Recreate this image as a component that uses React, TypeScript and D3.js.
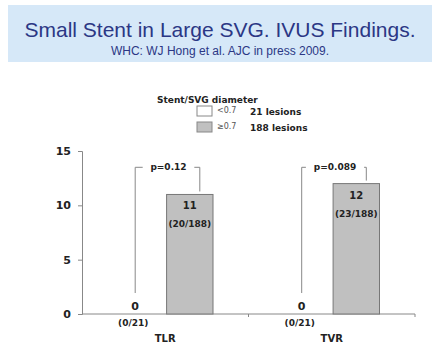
import React, { useEffect, useRef } from 'react';
import * as d3 from 'd3';

const categories = ['TLR', 'TVR'];
const groups = ['<0.7', '≥0.7'];
const lesions = ['21 lesions', '188 lesions'];
const smallValues = [0, 0];
const largeValues = [11, 12];
const smallFractions = ['(0/21)', '(0/21)'];
const largeFractions = ['(20/188)', '(23/188)'];
const pValues = ['p=0.12', 'p=0.089'];
const yTicks = [0, 5, 10, 15];
const bracketLevel = 13.5;

const App = () => {
    const ref = useRef<SVGSVGElement>(null);

    useEffect(() => {
        const svg = d3.select(ref.current);
        svg.selectAll('*').remove();
        const font = 'Arial, "Liberation Sans", sans-serif';
        const bold = '"DejaVu Sans", sans-serif';

        // title banner
        svg.append('rect').attr('x', 8).attr('y', 5).attr('width', 424).attr('height', 57).attr('fill', '#d6e8f8');
        svg.append('text').attr('x', 220).attr('y', 37).attr('text-anchor', 'middle')
            .attr('font-family', font).attr('font-size', 21).attr('fill', '#2b3785')
            .text('Small Stent in Large SVG. IVUS Findings.');
        svg.append('text').attr('x', 220).attr('y', 55).attr('text-anchor', 'middle')
            .attr('font-family', font).attr('font-size', 12).attr('fill', '#2b3785')
            .text('WHC: WJ Hong et al. AJC in press 2009.');

        // legend
        const legend = svg.append('g').attr('font-family', bold);
        legend.append('text').attr('x', 157).attr('y', 103).attr('font-size', 9).attr('font-weight', 'bold')
            .attr('fill', '#222').text('Stent/SVG diameter');
        groups.forEach((g, i) => {
            const yy = 106 + i * 16;
            legend.append('rect').attr('x', 197).attr('y', yy).attr('width', 15).attr('height', 10)
                .attr('fill', i === 0 ? '#fff' : '#c0c0c0').attr('stroke', '#888');
            legend.append('text').attr('x', 217).attr('y', yy + 7).attr('font-size', 8).attr('fill', '#555').text(g);
            legend.append('text').attr('x', 250).attr('y', yy + 9).attr('font-size', 9).attr('font-weight', 'bold')
                .attr('fill', '#222').text(lesions[i]);
        });

        const left = 82, right = 415, top = 151, bottom = 314;
        const x0 = d3.scaleBand().domain(categories).range([left, right]);
        const x1 = d3.scaleBand().domain(groups).range([30, 131]).paddingInner(0.15);
        const y = d3.scaleLinear().domain([0, 15]).range([bottom, top]);

        // y axis
        const yAxis = svg.append('g').attr('transform', `translate(${left},0)`)
            .call(d3.axisLeft(y).tickValues(yTicks).tickSize(4).tickPadding(7));
        yAxis.selectAll('path,line').attr('stroke', '#888');
        yAxis.selectAll('text').attr('font-family', bold).attr('font-size', 11).attr('font-weight', 'bold').attr('fill', '#222');

        // x axis
        const xAxis = svg.append('g').attr('transform', `translate(0,${bottom})`);
        xAxis.append('line').attr('x1', left).attr('x2', right).attr('stroke', '#888');
        [x0.range()[0] + x0.step(), right].forEach(t => {
            xAxis.append('line').attr('x1', t).attr('x2', t).attr('y1', 0).attr('y2', 3).attr('stroke', '#888');
        });

        categories.forEach((c, i) => {
            const gx = x0(c) as number;
            const sx = gx + (x1(groups[0]) as number);
            const lx = gx + (x1(groups[1]) as number);
            const bw = x1.bandwidth();
            const g = svg.append('g').attr('font-family', bold).attr('font-weight', 'bold').attr('fill', '#222')
                .attr('text-anchor', 'middle');

            // bars
            g.append('rect').attr('x', sx).attr('y', y(smallValues[i])).attr('width', bw)
                .attr('height', bottom - y(smallValues[i])).attr('fill', '#fff').attr('stroke', '#777');
            g.append('rect').attr('x', lx).attr('y', y(largeValues[i])).attr('width', bw)
                .attr('height', bottom - y(largeValues[i])).attr('fill', '#c0c0c0').attr('stroke', '#777');

            // labels
            g.append('text').attr('x', sx + bw / 2).attr('y', y(smallValues[i]) - 4).attr('font-size', 11).text(smallValues[i]);
            g.append('text').attr('x', sx + bw / 2 - 2).attr('y', bottom + 12).attr('font-size', 9).text(smallFractions[i]);
            g.append('text').attr('x', lx + bw / 2).attr('y', y(largeValues[i]) + 15).attr('font-size', 10).text(largeValues[i]);
            g.append('text').attr('x', lx + bw / 2).attr('y', y(largeValues[i]) + 33).attr('font-size', 9).text(largeFractions[i]);
            g.append('text').attr('x', gx + x0.bandwidth() / 2).attr('y', bottom + 28).attr('font-size', 10).text(c);

            // p-value bracket
            const bx1 = sx + bw / 2;
            const bx2 = lx + bw / 2 + 10;
            const by = y(bracketLevel);
            const tx = (bx1 + bx2) / 2 + 1;
            const tw = pValues[i].length * 3.3 + 6;
            const path = d3.path();
            path.moveTo(bx1, bottom - 21);
            path.lineTo(bx1, by);
            path.lineTo(tx - tw, by);
            path.moveTo(tx + tw, by);
            path.lineTo(bx2, by);
            path.lineTo(bx2, y(largeValues[i]) - 3);
            svg.append('path').attr('d', path.toString()).attr('fill', 'none').attr('stroke', '#888');
            g.append('text').attr('x', tx).attr('y', by + 3).attr('font-size', 9).text(pValues[i]);
        });
    }, []);

    return <svg ref={ref} width={440} height={352} style={{ position: 'absolute', left: 0, top: 0, background: '#fff' }} />;
};

export default App;
